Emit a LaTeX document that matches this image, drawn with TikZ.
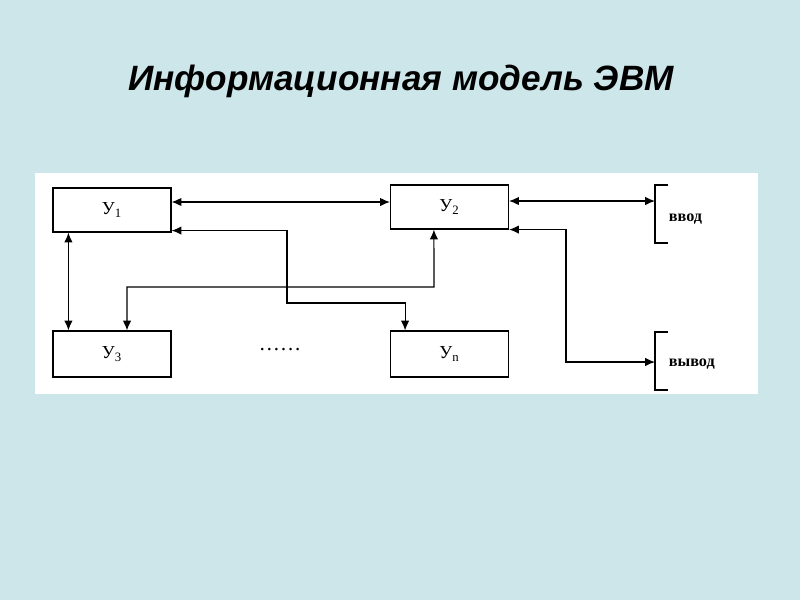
\documentclass[tikz,border=0pt]{standalone}
\usepackage{fontspec}
\setmainfont{Liberation Serif}
\newfontfamily\titlefont{Liberation Sans}
\usetikzlibrary{arrows.meta,calc}

\definecolor{slidebg}{RGB}{205,230,234}

\tikzset{
  unit/.style={draw,line width=0.8pt,minimum width=2.95cm,inner sep=0pt,
    font=\fontsize{13}{15}\selectfont},
  link/.style={<->,line width=0.8pt},
  port/.style={anchor=west,font=\bfseries\fontsize{11.5}{13}\selectfont}
}

\begin{document}
\begin{tikzpicture}[x=0.025cm,y=-0.025cm,>={Latex[length=7pt,width=6pt]}]
% slide background and white panel
\fill[slidebg] (0,0) rectangle (800,600);
\fill[white] (35,173) rectangle (758,394);

\node[font=\titlefont\bfseries\itshape\fontsize{25}{30}\selectfont] (title) at (401,81) {Информационная модель ЭВМ};

% devices
\node[unit,minimum height=1.1cm] (u1) at (112,210) {У\textsubscript{1}};
\node[unit,minimum height=1.1cm] (u2) at (449.5,207) {У\textsubscript{2}};
\node[unit,minimum height=1.15cm] (u3) at (112,354) {У\textsubscript{3}};
\node[unit,minimum height=1.15cm] (un) at (449.5,354) {У\textsubscript{n}};
\node[font=\fontsize{15}{17}\selectfont] (dots) at (280,350) {……};

% input / output brackets
\draw[line width=0.8pt] (668,185) -- (655,185) -- (655,243) -- (668,243);
\draw[line width=0.8pt] (668,332) -- (655,332) -- (655,390) -- (668,390);
\coordinate (in) at (655,201);
\coordinate (out) at (655,362);
\node[port] (intext) at (664,219) {ввод};
\node[port] (outtext) at (664,364) {вывод};

% links
\draw[link] ([yshift=0.2cm]u1.east) -- ([yshift=0.2cm]u1.east -| u2.west);
\draw[link] ([xshift=0.4cm]u1.south west) -- ([xshift=0.4cm]u3.north west);
\draw[link] ([yshift=0.05cm]u1.south east) -| (287,303) -| ([xshift=-1.11cm]un.north);
\draw[link] ([xshift=0.375cm]u3.north) |- (434,287) -- ([xshift=-0.39cm]u2.south);
\draw[link] (u2.east |- in) -- (in);
\draw[link] (u2.south east) -| (566,300) |- (out);
\end{tikzpicture}
\end{document}
